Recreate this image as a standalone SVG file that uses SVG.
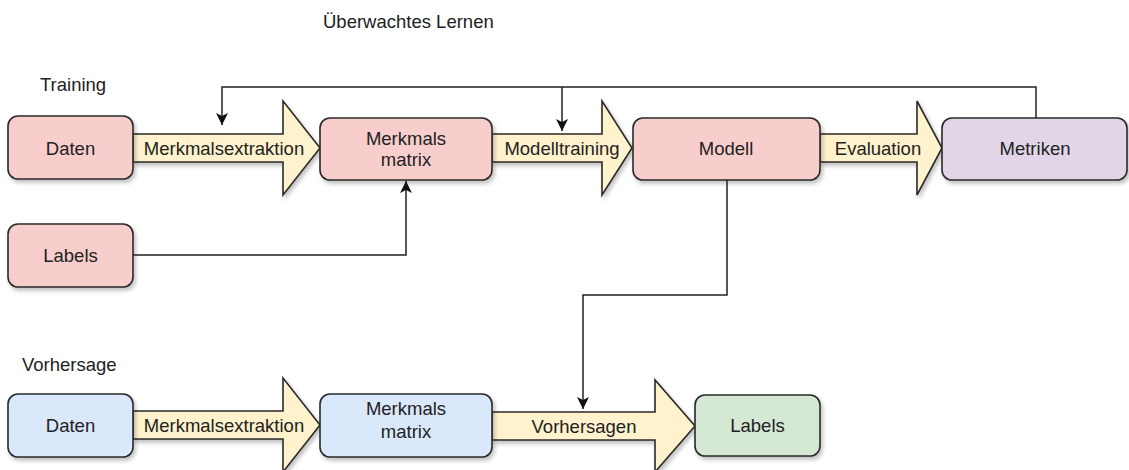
<svg xmlns="http://www.w3.org/2000/svg" width="1129" height="470" viewBox="0 0 1129 470">
  <defs>
    <filter id="sh" x="-10%" y="-10%" width="130%" height="140%">
      <feGaussianBlur in="SourceAlpha" stdDeviation="2"/>
      <feOffset dx="2" dy="3" result="b"/>
      <feComponentTransfer><feFuncA type="linear" slope="0.25"/></feComponentTransfer>
      <feMerge><feMergeNode/><feMergeNode in="SourceGraphic"/></feMerge>
    </filter>
    <marker id="ah" markerWidth="12" markerHeight="12" refX="10" refY="5" orient="auto" markerUnits="userSpaceOnUse" viewBox="0 0 10 10">
      <path d="M0,0 L10,5 L0,10 L2.5,5 Z" fill="#111"/>
    </marker>
  </defs>
  <style>
    text { font-family: "Liberation Sans", Arial, sans-serif; font-size: 18.5px; fill: #222; }
    .c { text-anchor: middle; }
    .box { stroke: #2a2a2a; stroke-width: 1.6; filter: url(#sh); }
    .red { fill: #f8cecc; }
    .blue { fill: #dae8fc; }
    .green { fill: #d5e8d4; }
    .purple { fill: #e1d5e7; }
    .arr { fill: #fff2cc; stroke: #2a2a2a; stroke-width: 1.6; filter: url(#sh); }
    .con { fill: none; stroke: #222; stroke-width: 1.5; }
  </style>

  <text id="title" x="323" y="28">Überwachtes Lernen</text>
  <text id="lbl-training" x="40" y="91">Training</text>
  <text id="lbl-vorhersage" x="22" y="371">Vorhersage</text>

  <g id="a-train-extract">
    <polygon class="arr" points="133,134 283,134 283,101 320,148 283,195 283,162 133,162"/>
    <text class="c" x="224" y="155">Merkmalsextraktion</text>
  </g>
  <g id="a-train-model">
    <polygon class="arr" points="492,134 602,134 602,101 632,148 602,195 602,162 492,162"/>
    <text class="c" x="562" y="155">Modelltraining</text>
  </g>
  <g id="a-eval">
    <polygon class="arr" points="820,134 917,134 917,101 942,148 917,195 917,162 820,162"/>
    <text class="c" x="878" y="155">Evaluation</text>
  </g>
  <g id="a-pred-extract">
    <polygon class="arr" points="133,411 283,411 283,378 320,425 283,472 283,439 133,439"/>
    <text class="c" x="224" y="432">Merkmalsextraktion</text>
  </g>
  <g id="a-predict">
    <polygon class="arr" points="492,412 655,412 655,380 695,426 655,472 655,440 492,440"/>
    <text class="c" x="584" y="433">Vorhersagen</text>
  </g>

  <g id="n-daten-train">
    <rect class="box red" x="8" y="116" width="125" height="63" rx="10"/>
    <text class="c" x="70.5" y="155">Daten</text>
  </g>
  <g id="n-matrix-train">
    <rect class="box red" x="320" y="118" width="172" height="62" rx="10"/>
    <text class="c" x="406" y="145">Merkmals</text>
    <text class="c" x="406" y="166">matrix</text>
  </g>
  <g id="n-modell">
    <rect class="box red" x="633" y="118" width="187" height="62" rx="10"/>
    <text class="c" x="726" y="155">Modell</text>
  </g>
  <g id="n-metriken">
    <rect class="box purple" x="942" y="118" width="185" height="62" rx="10"/>
    <text class="c" x="1035" y="155">Metriken</text>
  </g>
  <g id="n-labels-train">
    <rect class="box red" x="8" y="224" width="125" height="63" rx="10"/>
    <text class="c" x="70.5" y="262">Labels</text>
  </g>
  <g id="n-daten-pred">
    <rect class="box blue" x="8" y="394" width="125" height="63" rx="10"/>
    <text class="c" x="70.5" y="432">Daten</text>
  </g>
  <g id="n-matrix-pred">
    <rect class="box blue" x="320" y="394" width="172" height="63" rx="10"/>
    <text class="c" x="406" y="415">Merkmals</text>
    <text class="c" x="406" y="438">matrix</text>
  </g>
  <g id="n-labels-pred">
    <rect class="box green" x="695" y="395" width="125" height="61" rx="10"/>
    <text class="c" x="757.5" y="432">Labels</text>
  </g>

  <g id="connectors">
    <path class="con" d="M1036,118 V87 H222 V125" marker-end="url(#ah)"/>
    <path class="con" d="M562,87 V131" marker-end="url(#ah)"/>
    <path class="con" d="M133,255 H406 V181" marker-end="url(#ah)"/>
    <path class="con" d="M727,180 V295 H583 V409" marker-end="url(#ah)"/>
  </g>
</svg>
